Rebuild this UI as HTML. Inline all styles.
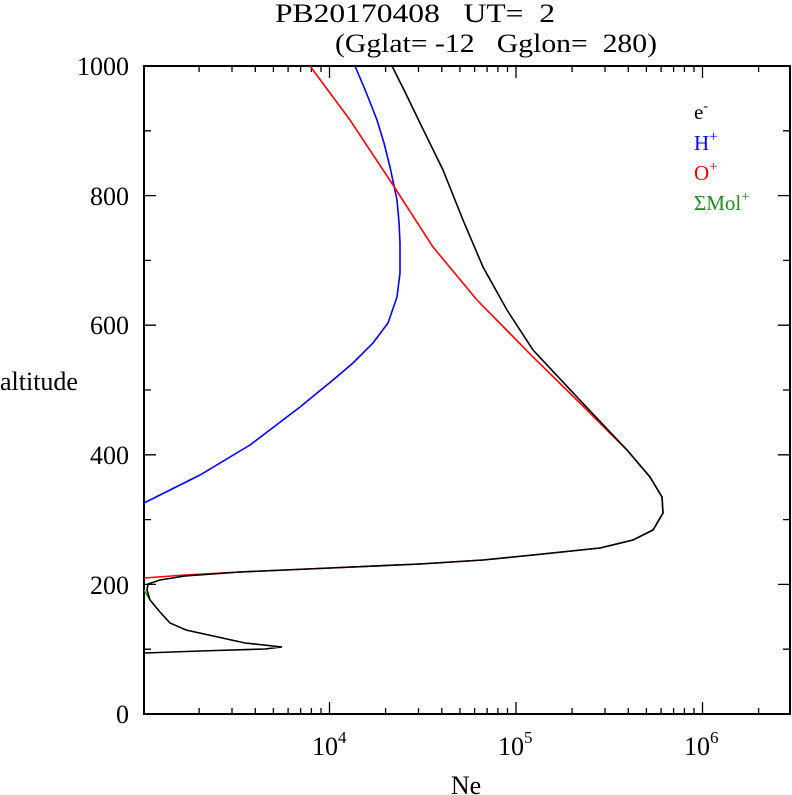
<!DOCTYPE html>
<html><head><style>body{margin:0;background:#fff}svg{display:block}text{font-family:"Liberation Serif",serif;white-space:pre}</style></head><body>
<svg width="792" height="795" xmlns="http://www.w3.org/2000/svg">
<text x="275" y="22" font-size="26" textLength="280" lengthAdjust="spacingAndGlyphs" xml:space="preserve">PB20170408   UT=  2</text>
<text x="335" y="52" font-size="26" textLength="322" lengthAdjust="spacingAndGlyphs" xml:space="preserve">(Gglat= -12   Gglon=  280)</text>
<g font-size="26" text-anchor="end">
<text x="129" y="75">1000</text><text x="129" y="205">800</text><text x="129" y="334">600</text><text x="129" y="464">400</text><text x="129" y="594">200</text><text x="129" y="723">0</text></g>
<text x="0" y="390" font-size="26">altitude</text>
<g font-size="26"><text x="312" y="755">10<tspan font-size="17" dy="-12">4</tspan></text><text x="498" y="755">10<tspan font-size="17" dy="-12">5</tspan></text><text x="684" y="755">10<tspan font-size="17" dy="-12">6</tspan></text></g>
<text x="466" y="794" font-size="26" text-anchor="middle">Ne</text>
<g font-size="21"><text x="694" y="119">e<tspan font-size="14" dy="-9">-</tspan></text>
<text x="694" y="150" fill="#00f">H<tspan font-size="15" dy="-9">+</tspan></text>
<text x="694" y="180" fill="#f00">O<tspan font-size="15" dy="-9">+</tspan></text>
<text x="694" y="210" fill="#228b22">ΣMol<tspan font-size="15" dy="-9">+</tspan></text></g>
<rect x="144" y="66" width="646" height="648" fill="none" stroke="#000" stroke-width="2"/>
<path stroke="#000" stroke-width="1.3" fill="none" d="
M144,714h12M144,649.2h7M144,584.4h12M144,519.6h7M144,454.8h12M144,390h7M144,325.2h12M144,260.4h7M144,195.6h12M144,130.8h7
M790,714h-12M790,649.2h-7M790,584.4h-12M790,519.6h-7M790,454.8h-12M790,390h-7M790,325.2h-12M790,260.4h-7M790,195.6h-12M790,130.8h-7
M199.1,714v-6M232,714v-6M255.3,714v-6M273.4,714v-6M288.1,714v-6M300.6,714v-6M311.4,714v-6M321,714v-6M329.5,714v-12
M385.6,714v-6M418.5,714v-6M441.8,714v-6M459.9,714v-6M474.6,714v-6M487.1,714v-6M497.9,714v-6M507.5,714v-6M516,714v-12
M572.1,714v-6M605,714v-6M628.3,714v-6M646.4,714v-6M661.1,714v-6M673.6,714v-6M684.4,714v-6M694,714v-6M702.5,714v-12M758.6,714v-6
M199.1,66v6M232,66v6M255.3,66v6M273.4,66v6M288.1,66v6M300.6,66v6M311.4,66v6M321,66v6M329.5,66v12
M385.6,66v6M418.5,66v6M441.8,66v6M459.9,66v6M474.6,66v6M487.1,66v6M497.9,66v6M507.5,66v6M516,66v12
M572.1,66v6M605,66v6M628.3,66v6M646.4,66v6M661.1,66v6M673.6,66v6M684.4,66v6M694,66v6M702.5,66v12M758.6,66v6"/>
<polyline fill="none" stroke="#00f" stroke-width="1.6" points="355,66 366,92 377,120 384,143 390,167 397,200 399,222 400,243 400,273 397,297 388,323 373,343 353,363 333,380 300,407 250,445 200,475 144,503"/>
<polyline fill="none" stroke="#f00" stroke-width="1.6" points="310,66 350,120 393,185 433,247 477,300 533,357 580,403 627,450 650,477 662,497 663,513 653,530 633,540 600,548 533,555 483,560 420,564 330,568 240,572 185,575 144,578"/>
<polyline fill="none" stroke="#228b22" stroke-width="1.6" points="144,590 150,600"/>
<polyline fill="none" stroke="#000" stroke-width="1.6" points="392,66 406,94 420,123 443,170 463,220 483,267 507,310 533,350 577,397 627,450 650,477 662,497 663,513 653,530 633,540 600,548 533,555 483,560 420,564 330,568 240,572 185,576 160,580 148,584 147,590 150,600 160,612 170,623 186,630 245,643 282,647 265,649 200,651 145,653"/>
</svg></body></html>
